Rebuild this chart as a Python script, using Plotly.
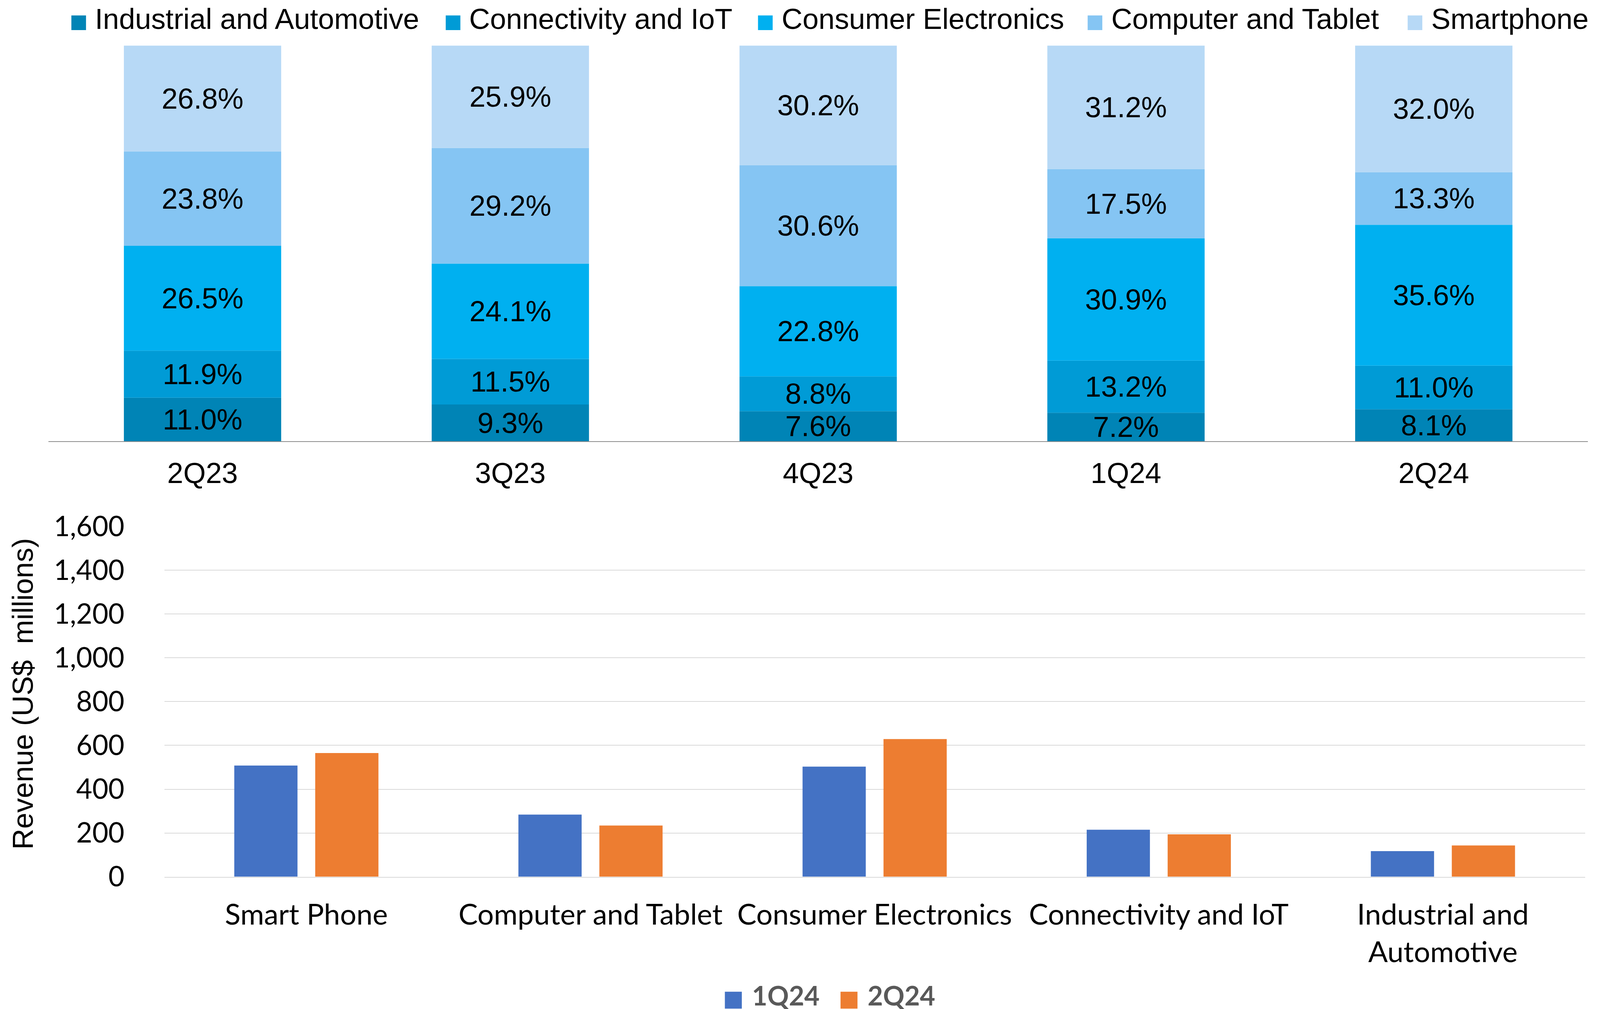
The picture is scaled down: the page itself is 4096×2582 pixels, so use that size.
import plotly.graph_objects as go
import numpy as np

# ---------------- data ----------------
quarters = ["2Q23", "3Q23", "4Q23", "1Q24", "2Q24"]
share_names = ["Industrial and Automotive", "Connectivity and IoT", "Consumer Electronics",
               "Computer and Tablet", "Smartphone"]
industrial = [11.0, 9.3, 7.6, 7.2, 8.1]
connectivity = [11.9, 11.5, 8.8, 13.2, 11.0]
consumer = [26.5, 24.1, 22.8, 30.9, 35.6]
computer = [23.8, 29.2, 30.6, 17.5, 13.3]
smartphone = [26.8, 25.9, 30.2, 31.2, 32.0]

segments = ["Smart Phone", "Computer and Tablet", "Consumer Electronics",
            "Connectivity and IoT", "Industrial and<br>Automotive"]
rev_1q24 = [508, 284, 503, 215, 117]
rev_2q24 = [565, 234, 629, 194, 143]
rev_ticks = [0, 200, 400, 600, 800, 1000, 1200, 1400, 1600]

# ---------------- styling ----------------
S = 0.986
W, H = 4096, 2582
RW, RH = 4150, 2616


def fx(p):
    return p / RW


def fy(p):
    return 1 - p / RH


share_colors = ["#0084B6", "#009BD6", "#00B0F0", "#85C5F3", "#B7D9F6"]
rev_colors = ["#4472C4", "#ED7D31"]
ARIAL = "Liberation Sans, Arial, sans-serif"
CALI = "Lato, Carlito, Calibri, sans-serif"

fig = go.Figure()

# ---- top: stacked share bars ----
share_vals = [industrial, connectivity, consumer, computer, smartphone]
base = np.zeros(len(quarters))
for name, vals, col in zip(share_names, share_vals, share_colors):
    fig.add_trace(go.Bar(
        x=quarters, y=vals, base=base.copy(), name=name,
        marker=dict(color=col, line=dict(width=0)),
        width=0.511, offset=-0.2555,
        text=[f"{v:.1f}%" for v in vals], textposition="inside",
        insidetextanchor="middle", textangle=0, constraintext="none",
        textfont=dict(family=ARIAL, size=75 * S, color="black"),
        xaxis="x", yaxis="y", showlegend=False,
    ))
    base = base + np.array(vals)

# ---- bottom: revenue grouped bars ----
for name, vals, col, off in zip(["1Q24", "2Q24"], [rev_1q24, rev_2q24], rev_colors, [-0.2537, 0.0312]):
    fig.add_trace(go.Bar(
        x=segments, y=vals, name=name,
        marker=dict(color=col, line=dict(width=0)),
        width=0.2225, offset=off,
        xaxis="x2", yaxis="y2", showlegend=False,
    ))

fig.update_layout(
    template="none",
    width=W, height=H,
    margin=dict(l=0, r=0, t=0, b=0, pad=0, autoexpand=False),
    paper_bgcolor="white", plot_bgcolor="white",
    barmode="overlay",
    uniformtext=dict(minsize=75 * S, mode="show"),
    xaxis=dict(domain=[fx(118), fx(4110)], anchor="y", type="category", automargin=False,
               showline=True, linecolor="#8C8C8C", linewidth=2.5 * S,
               ticks="", showgrid=False, zeroline=False,
               tickfont=dict(family=ARIAL, size=75 * S, color="black"),
               ticklabelstandoff=int(17 * S)),
    yaxis=dict(domain=[fy(1136), fy(110)], anchor="x", range=[0, 100], automargin=False,
               showticklabels=False, showgrid=False, zeroline=False, showline=False),
    xaxis2=dict(domain=[fx(418), fx(4103)], anchor="y2", type="category", automargin=False,
                showline=True, linecolor="#D9D9D9", linewidth=2.5 * S,
                ticks="", showgrid=False, zeroline=False,
                tickfont=dict(family=CALI, size=75 * S, color="black"),
                ticklabelstandoff=int(32 * S)),
    yaxis2=dict(domain=[fy(2265), fy(1357)], anchor="x2", range=[0, 1600], automargin=False,
                tickvals=rev_ticks, ticktext=[f"{t:,}" for t in rev_ticks],
                showgrid=True, gridcolor="#D9D9D9", gridwidth=2.5 * S,
                zeroline=False, showline=False, ticks="",
                tickfont=dict(family=CALI, size=72 * S, color="black"),
                ticklabelstandoff=int(103 * S)),
)

# ---- y-axis title ----
fig.add_annotation(
    xref="paper", yref="paper", x=fx(51), y=fy(1791), showarrow=False,
    text="Revenue (US$\u00a0 millions)", textangle=-90,
    xanchor="center", yanchor="middle",
    font=dict(family=ARIAL, size=75 * S, color="black"),
)

# ---- top legend (custom) ----
leg_marker_left = [177, 1148, 1958, 2813, 3643]
for name, col, ml in zip(share_names, share_colors, leg_marker_left):
    fig.add_shape(type="rect", xref="paper", yref="paper",
                  x0=fx(ml), x1=fx(ml + 38), y0=fy(70), y1=fy(32),
                  fillcolor=col, line=dict(width=0))
    fig.add_annotation(xref="paper", yref="paper", x=fx(ml + 59), y=fy(41),
                       xanchor="left", yanchor="middle", showarrow=False,
                       text=name, font=dict(family=ARIAL, size=75 * S, color="black"))

# ---- bottom legend (custom) ----
for name, col, ml in zip(["1Q24", "2Q24"], rev_colors, [1872, 2172]):
    fig.add_shape(type="rect", xref="paper", yref="paper",
                  x0=fx(ml), x1=fx(ml + 44), y0=fy(2607), y1=fy(2563),
                  fillcolor=col, line=dict(width=0))
    fig.add_annotation(xref="paper", yref="paper", x=fx(ml + 68), y=fy(2572),
                       xanchor="left", yanchor="middle", showarrow=False,
                       text=f"<b>{name}</b>",
                       font=dict(family=CALI, size=69 * S, color="#595959"))

fig.write_html("out.html")
